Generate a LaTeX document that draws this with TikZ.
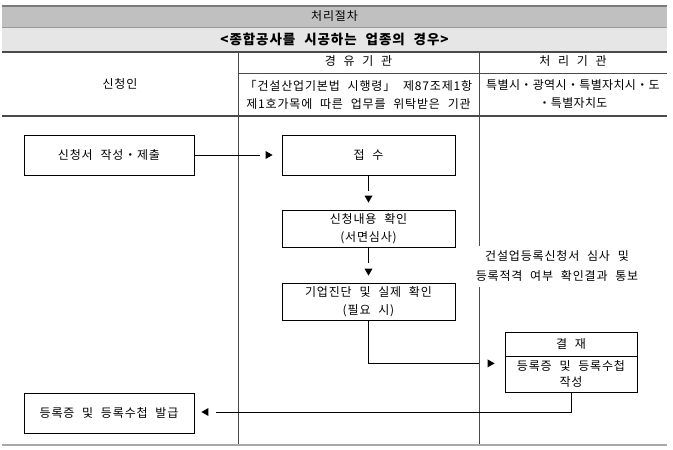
\documentclass[tikz,border=0pt]{standalone}
\usepackage{fontspec}
\setmainfont{Noto Sans CJK KR}[WordSpace=2.2,LetterSpace=7]
\usetikzlibrary{calc}
\definecolor{bandA}{HTML}{C0C0C0}
\definecolor{bandB}{HTML}{E6E6E6}
\definecolor{topgray}{HTML}{7A7A7A}
\definecolor{rulegray}{HTML}{4A4A4A}
\definecolor{botgray}{HTML}{A8A8A8}
\begin{document}
\begin{tikzpicture}[x=1pt,y=-1pt,
  font=\fontsize{12}{18}\selectfont,
  box/.style={draw=black, line width=0.8pt, minimum width=172pt, minimum height=40pt, inner sep=0pt, align=center},
  conn/.style={draw=black, line width=0.8pt},
  arrowtip/.style={fill=black},
  lbl/.style={inner sep=0pt, align=center},
  rule/.style={draw=rulegray, line width=1.3pt},
  thinrule/.style={draw=rulegray, line width=0.8pt},
  vline/.style={draw=rulegray, line width=0.9pt}]
\useasboundingbox (0,0) rectangle (673,450);
\fill[white] (0,0) rectangle (673,450);
% header bands
\fill[bandA] (2,7) rectangle (667,27);
\fill[bandB] (2,27) rectangle (667,52);
\draw[draw=topgray, line width=2pt] (2,6) -- (667,6);
\draw[draw=bandA!80!black, line width=0.6pt] (2,27) -- (667,27);
\draw[rule] (2,52) -- (667,52);
\draw[rule] (2,116) -- (667,116);
\draw[thinrule] (238,73) -- (667,73);
\draw[vline] (238,52) -- (238,445);
\draw[vline] (479,52) -- (479,445);
\draw[draw=botgray, line width=2pt] (2,445) -- (667,445);
% header texts
\node[lbl] (title) at (334.5,16.5) {처리절차};
\node[lbl, font=\fontsize{13.5}{18}\selectfont\bfseries] (subtitle) at (334.5,39.5) {<종합공사를 시공하는 업종의 경우>};
\node[lbl] (colA) at (120,84) {신청인};
\node[lbl] (colB) at (358.5,61.5) {경 유 기 관};
\node[lbl] (colC) at (573,61.5) {처 리 기 관};
\node[lbl] (colBsub) at (358.5,94.5) {「건설산업기본법 시행령」 제87조제1항\\제1호가목에 따른 업무를 위탁받은 기관};
\node[lbl, font=\fontsize{12}{18}\selectfont\addfontfeatures{LetterSpace=3}] (colCsub) at (573,94.5) {특별시・광역시・특별자치시・도\\・특별자치도};
% boxes
\node[box, minimum width=170pt] (apply) at (109,155) {신청서 작성・제출};
\node[box, minimum width=173pt] (receive) at (368.5,155) {접 수};
\node[box, minimum width=173pt, minimum height=37pt] (check) at (368.5,228.5) {신청내용 확인\\(서면심사)};
\node[box, minimum width=173pt, minimum height=37pt] (diag) at (368.5,301.5) {기업진단 및 실제 확인\\(필요 시)};
\node[box, minimum width=132pt, minimum height=24pt] (apprTop) at (571,344) {결 재};
\node[box, minimum width=132pt, minimum height=36pt, font=\fontsize{12}{16}\selectfont] (apprBot) at (571,374) {등록증 및 등록수첩\\작성};
\node[box, minimum width=170pt] (issue) at (109,413) {등록증 및 등록수첩 발급};
% note text (covers the vertical line)
\node[lbl, fill=white, minimum height=41pt, inner xsep=3pt, font=\fontsize{12}{20}\selectfont] (note) at (557,266) {건설업등록신청서 심사 및\\등록적격 여부 확인결과 통보};
% connectors with detached triangular tips
\draw[conn] (apply.east) -- ($(receive.west)+(-22,0)$);
\fill[arrowtip] ($(receive.west)+(-9,0)$) -- ++(-7,-4) -- ++(0,8) -- cycle;
\draw[conn] (receive.south) -- ($(check.north)+(0,-19)$);
\fill[arrowtip] ($(check.north)+(0,-7)$) -- ++(-4,-7) -- ++(8,0) -- cycle;
\draw[conn] (check.south) -- ($(diag.north)+(0,-20)$);
\fill[arrowtip] ($(diag.north)+(0,-7)$) -- ++(-4,-7) -- ++(8,0) -- cycle;
\coordinate (inA) at ($(apprTop.south west)+(-26,7)$);
\draw[conn] (diag.south) |- (inA);
\fill[arrowtip] ($(apprTop.south west)+(-10,7)$) -- ++(-7,-4) -- ++(0,8) -- cycle;
\coordinate (inB) at ($(issue.east)+(22,-1)$);
\draw[conn] (apprBot.south) |- (inB);
\fill[arrowtip] ($(issue.east)+(7,-1)$) -- ++(7,-4) -- ++(0,8) -- cycle;
\end{tikzpicture}
\end{document}
